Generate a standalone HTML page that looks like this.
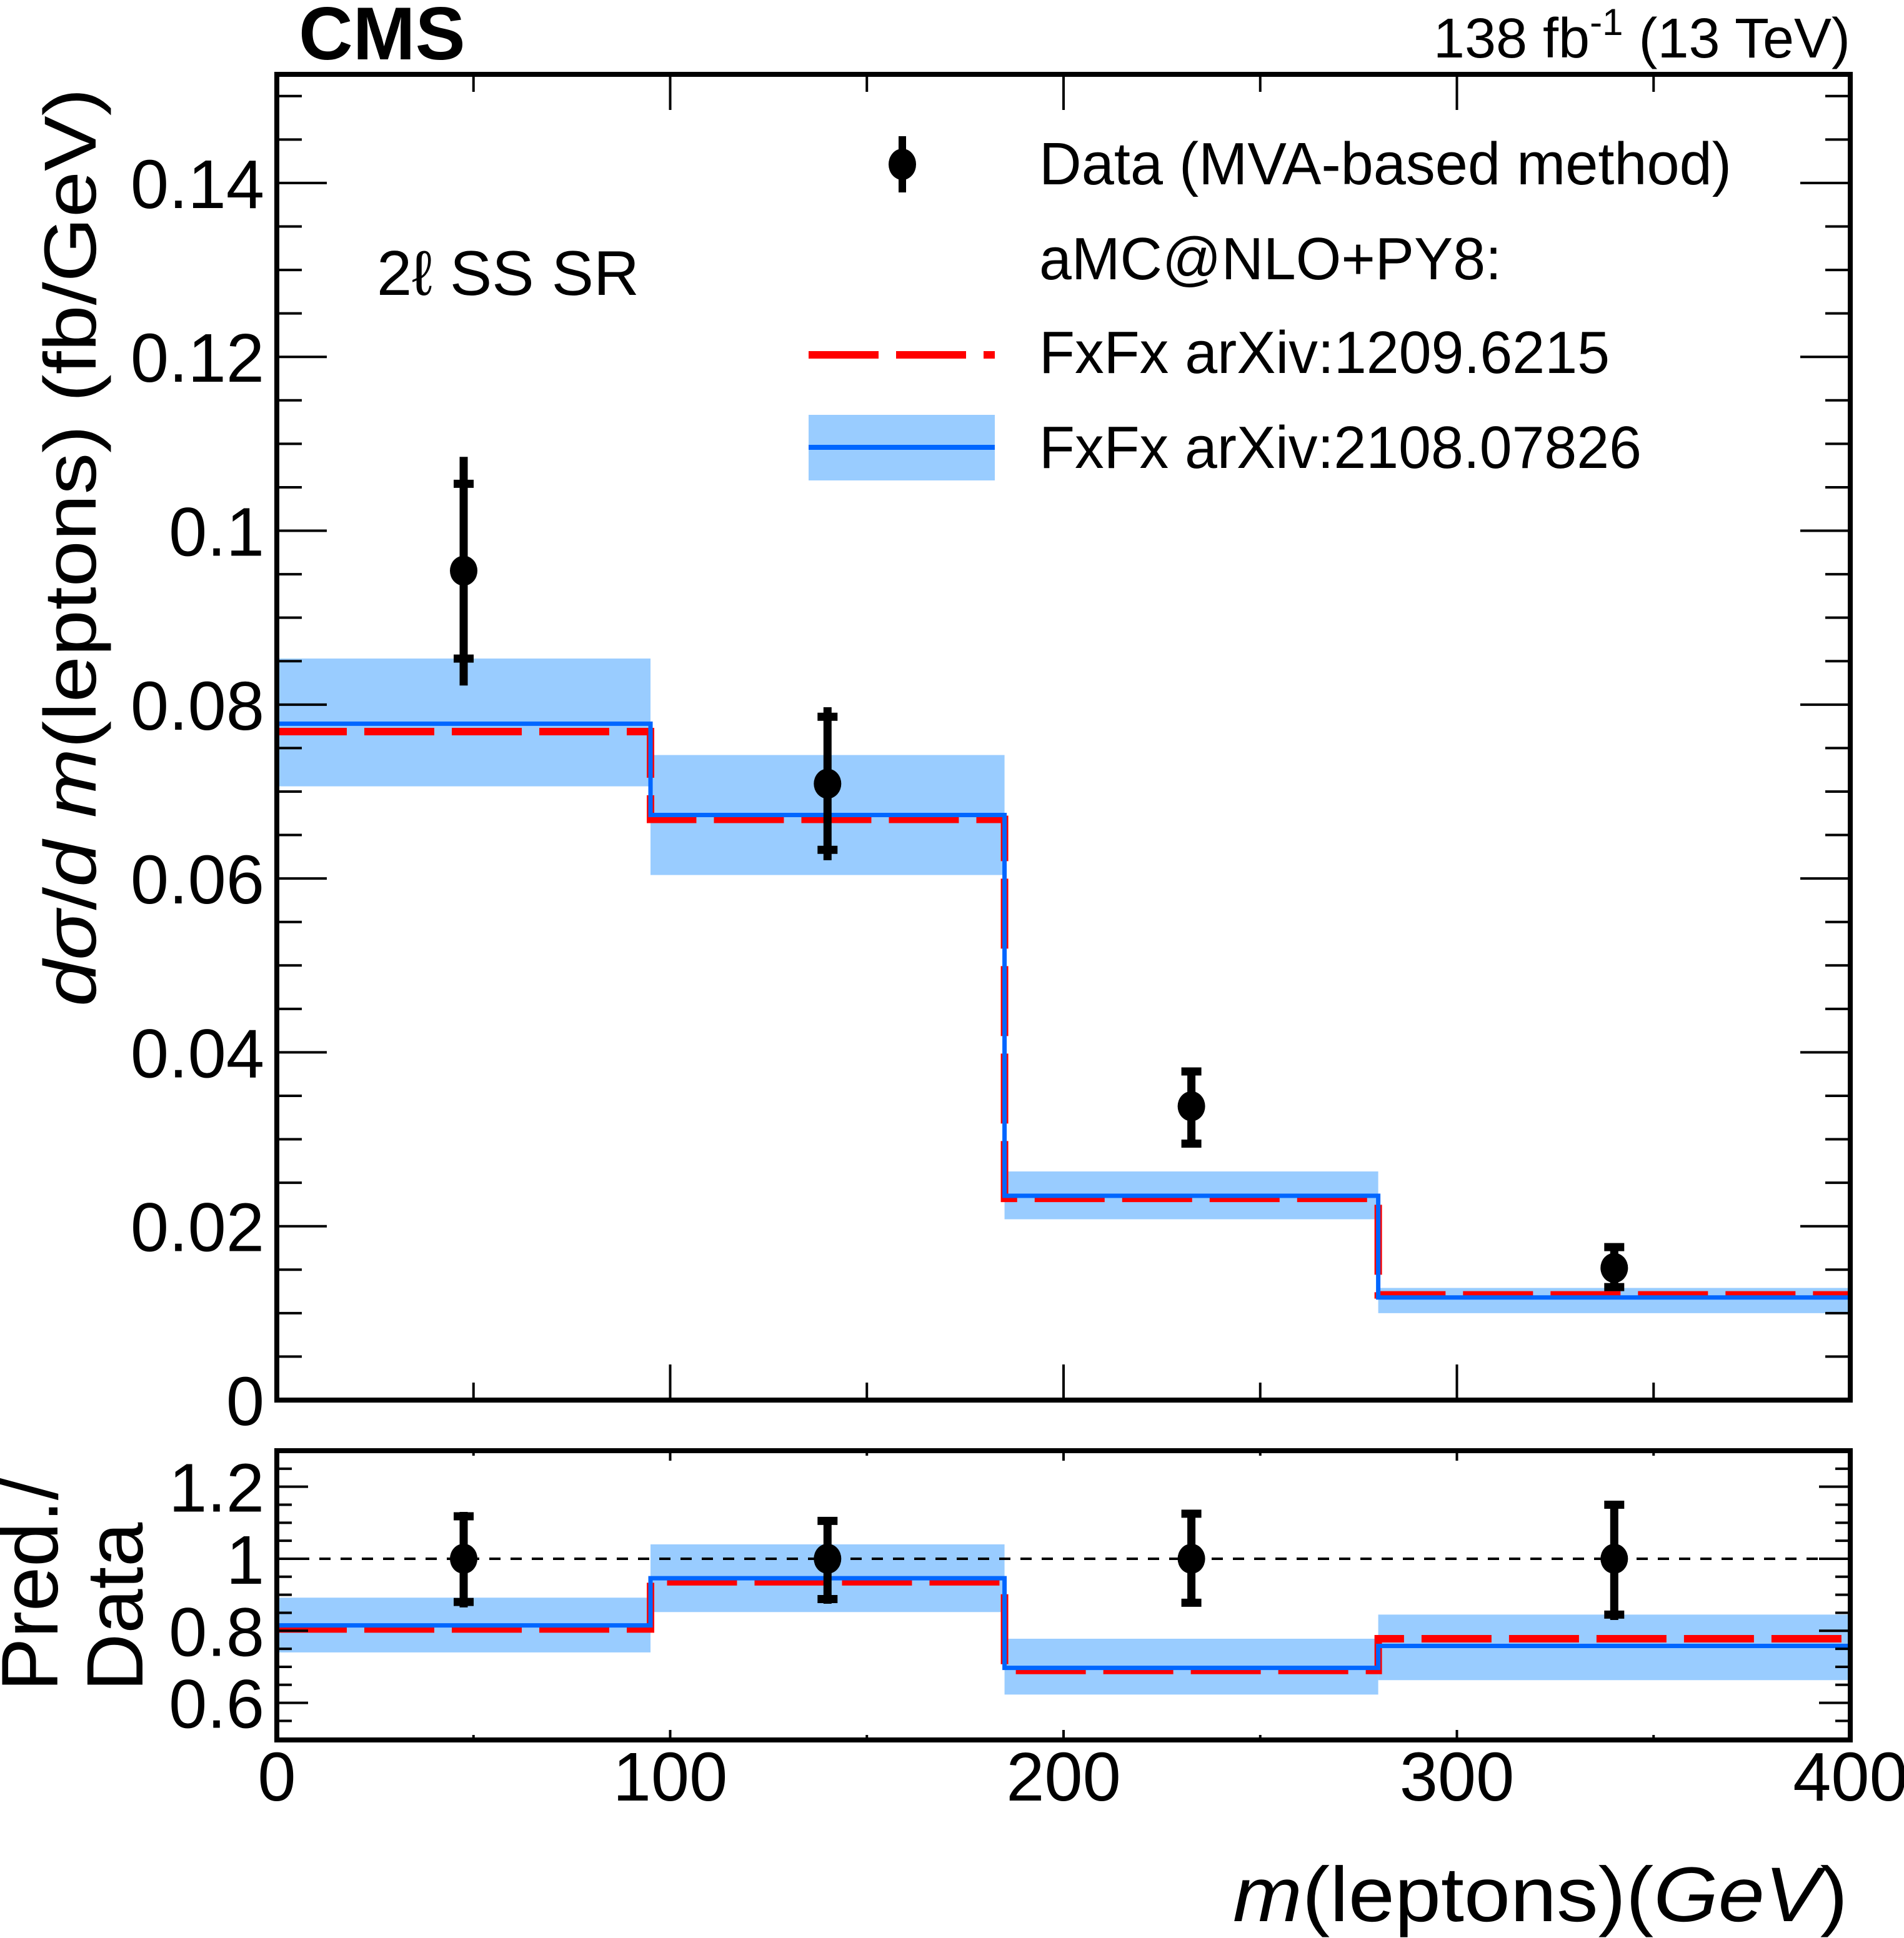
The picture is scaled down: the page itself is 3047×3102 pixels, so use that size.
<!DOCTYPE html>
<html><head><meta charset="utf-8"><style>
html,body{margin:0;padding:0;background:#fff;}
svg{display:block;}
text{font-family:"Liberation Sans",Arial,sans-serif;fill:#000;}
</style></head>
<body>
<svg id="chart" xmlns="http://www.w3.org/2000/svg" width="3047" height="3102" viewBox="0 0 3047 3102">
<rect x="0" y="0" width="3047" height="3102" fill="#fff"/>
<g id="main-plot"></g>
<g id="ratio-plot"></g>
<g id="labels">
  <text x="478" y="95" font-size="120" font-weight="bold">CMS</text>
  <text x="2961" y="92" font-size="90" text-anchor="end">138 fb<tspan dy="-36" font-size="60">-1</tspan><tspan dy="36"> (13 TeV)</tspan></text>
  <text x="603" y="472" font-size="101">2ℓ SS SR</text>
  <text transform="translate(153,141) rotate(-90)" text-anchor="end" font-size="118" textLength="1470" lengthAdjust="spacingAndGlyphs"><tspan font-style="italic">d</tspan><tspan font-style="italic">σ</tspan>/<tspan font-style="italic">d m</tspan>(leptons)  (fb/GeV)</text>
  <text transform="translate(92,2707) rotate(-90)" font-size="128">Pred./</text>
  <text transform="translate(228,2707) rotate(-90)" font-size="128">Data</text>
  <text x="1973" y="3075" font-size="124" textLength="984" lengthAdjust="spacingAndGlyphs"><tspan font-style="italic">m</tspan>(leptons)(<tspan font-style="italic">GeV</tspan>)</text>
</g>
<g id="legend">
  <g>
    <line x1="1444" y1="218" x2="1444" y2="308" stroke="#000" stroke-width="12"/>
    <ellipse cx="1444" cy="263" rx="22" ry="25" fill="#000"/>
    <text x="1663" y="295" font-size="96" textLength="1108" lengthAdjust="spacingAndGlyphs">Data (MVA-based method)</text>
  </g>
  <g>
    <text x="1663" y="447" font-size="96" textLength="740" lengthAdjust="spacingAndGlyphs">aMC@NLO+PY8:</text>
  </g>
  <g>
    <line x1="1294" y1="568" x2="1592" y2="568" stroke="#ff0000" stroke-width="12" stroke-dasharray="112 28"/>
    <text x="1663" y="597" font-size="96" textLength="913" lengthAdjust="spacingAndGlyphs">FxFx arXiv:1209.6215</text>
  </g>
  <g>
    <rect x="1294" y="664" width="298" height="105" fill="#99ccff"/>
    <line x1="1294" y1="716" x2="1592" y2="716" stroke="#0066ff" stroke-width="8"/>
    <text x="1663" y="749" font-size="96" textLength="964" lengthAdjust="spacingAndGlyphs">FxFx arXiv:2108.07826</text>
  </g>
</g>
</svg>
<script>
// ---- data ----
const binEdges = [0, 95, 185, 280, 400];
const dataX = [47.5, 140, 232.5, 340];
const dataVal = [0.0954, 0.0709, 0.0338, 0.0152];
const dataTotLo = [0.0822, 0.0621, 0.0293, 0.0128];
const dataTotHi = [0.1085, 0.0797, 0.0380, 0.0178];
const dataStatLo = [0.0853, 0.0633, 0.0295, 0.0130];
const dataStatHi = [0.1054, 0.0786, 0.0378, 0.0176];
const predBlue = [0.0778, 0.0673, 0.0235, 0.0118];
const predRed = [0.0769, 0.0668, 0.0232, 0.0121];
const bandLo = [0.0706, 0.0604, 0.0208, 0.0100];
const bandHi = [0.0853, 0.0742, 0.0263, 0.0129];
const ratioData = [1, 1, 1, 1];
const ratioTotLo = [0.865, 0.875, 0.870, 0.830];
const ratioTotHi = [1.130, 1.115, 1.130, 1.160];
const ratioStatLo = [0.880, 0.888, 0.878, 0.845];
const ratioStatHi = [1.118, 1.105, 1.125, 1.150];
const ratioBlue = [0.815, 0.946, 0.697, 0.758];
const ratioRed = [0.805, 0.936, 0.690, 0.778];
const ratioBandLo = [0.740, 0.852, 0.623, 0.663];
const ratioBandHi = [0.892, 1.040, 0.778, 0.845];
const mainYTicks = [0, 0.02, 0.04, 0.06, 0.08, 0.1, 0.12, 0.14];
const mainYTickLabels = ["0", "0.02", "0.04", "0.06", "0.08", "0.1", "0.12", "0.14"];
const ratioYTicks = [0.6, 0.8, 1, 1.2];
const ratioYTickLabels = ["0.6", "0.8", "1", "1.2"];
const xTicks = [0, 100, 200, 300, 400];
const xTickLabels = ["0", "100", "200", "300", "400"];

const NS = "http://www.w3.org/2000/svg";
const L = 443, R = 2961;
const MT = 119, MB = 2241, RT = 2322, RB = 2785;
const yMaxMain = 0.1525, rMin = 0.497, rMax = 1.30;
function xs(v){ return L + (v - 0) / 400 * (R - L); }
function ym(v){ return MB - v / yMaxMain * (MB - MT); }
function yr(v){ return RB - (v - rMin) / (rMax - rMin) * (RB - RT); }

function mk(parent, tag, attrs){
  const e = document.createElementNS(NS, tag);
  for (const k in attrs) e.setAttribute(k, attrs[k]);
  parent.appendChild(e);
  return e;
}
function stepPath(vals, yf){
  let d = "";
  for (let i = 0; i < vals.length; i++){
    const x0 = xs(binEdges[i]), x1 = xs(binEdges[i+1]), y = yf(vals[i]);
    d += (i === 0 ? "M" : "L") + x0 + "," + y + "L" + x1 + "," + y;
  }
  return d;
}

function drawPanel(g, top, bottom, yf, yTicks, yLabels, minorStep, yMin, yMax, isMain, vals){
  for (let i = 0; i < vals.bandLo.length; i++){
    const b = mk(g, "rect", {x: xs(binEdges[i]), y: yf(vals.bandHi[i]), width: xs(binEdges[i+1]) - xs(binEdges[i]), height: yf(vals.bandLo[i]) - yf(vals.bandHi[i]), fill: "#99ccff"});
    
    
  }
  if (!isMain){
    const ref = mk(g, "line", {x1: L, x2: R, y1: yf(1), y2: yf(1), stroke: "#000", "stroke-width": 4, "stroke-dasharray": "18 16"});
    
    
  }
  const red = mk(g, "path", {d: stepPath(vals.red, yf), fill: "none", stroke: "#ff0000", "stroke-width": 12, "stroke-dasharray": "112 28"});
  
  
  const blue = mk(g, "path", {d: stepPath(vals.blue, yf), fill: "none", stroke: "#0066ff", "stroke-width": 7});
  
  
  for (let i = 0; i < vals.dx.length; i++){
    const x = xs(vals.dx[i]);
    const pg = mk(g, "g", {});
    
    
    mk(pg, "line", {x1: x, x2: x, y1: yf(vals.tlo[i]), y2: yf(vals.thi[i]), stroke: "#000", "stroke-width": 13});
    mk(pg, "line", {x1: x - 16, x2: x + 16, y1: yf(vals.slo[i]), y2: yf(vals.slo[i]), stroke: "#000", "stroke-width": 13});
    mk(pg, "line", {x1: x - 16, x2: x + 16, y1: yf(vals.shi[i]), y2: yf(vals.shi[i]), stroke: "#000", "stroke-width": 13});
    mk(pg, "ellipse", {cx: x, cy: yf(vals.dv[i]), rx: 22, ry: 24, fill: "#000"});
  }
  const tg = mk(g, "g", {stroke: "#000", "stroke-width": 4});
  
  
  const yMajLen = isMain ? 80 : 50, yMinLen = isMain ? 40 : 24;
  for (let v = yMin; v <= yMax + 1e-9; v += minorStep){
    const vv = Math.round(v * 10000) / 10000;
    const major = yTicks.some(t => Math.abs(t - vv) < 1e-6);
    const len = major ? yMajLen : yMinLen, y = yf(vv);
    if (y < top + 2 || y > bottom - 2) continue;
    mk(tg, "line", {x1: L, x2: L + len, y1: y, y2: y});
    mk(tg, "line", {x1: R, x2: R - len, y1: y, y2: y});
  }
  const xMaj = isMain ? 57 : 16, xMin = isMain ? 28 : 8;
  for (let v = 0; v <= 400; v += 50){
    const major = v % 100 === 0, len = major ? xMaj : xMin, x = xs(v);
    if (v === 0 || v === 400) continue;
    mk(tg, "line", {x1: x, x2: x, y1: bottom, y2: bottom - len});
    mk(tg, "line", {x1: x, x2: x, y1: top, y2: top + len});
  }
  const fr = mk(g, "rect", {x: L, y: top, width: R - L, height: bottom - top, fill: "none", stroke: "#000", "stroke-width": 8});
  
  
  for (let i = 0; i < yTicks.length; i++){
    const t = mk(g, "text", {x: 423, y: yf(yTicks[i]) + 40, "font-size": 110, "text-anchor": "end"});
    t.textContent = yLabels[i];
    
    
  }
}

const mainG = document.getElementById("main-plot");
drawPanel(mainG, MT, MB, ym, mainYTicks, mainYTickLabels, 0.005, 0, 0.15, true,
  {bandLo: bandLo, bandHi: bandHi, red: predRed, blue: predBlue, dx: dataX, dv: dataVal, tlo: dataTotLo, thi: dataTotHi, slo: dataStatLo, shi: dataStatHi});
const ratioG = document.getElementById("ratio-plot");
drawPanel(ratioG, RT, RB, yr, ratioYTicks, ratioYTickLabels, 0.05, 0.5, 1.3, false,
  {bandLo: ratioBandLo, bandHi: ratioBandHi, red: ratioRed, blue: ratioBlue, dx: dataX, dv: ratioData, tlo: ratioTotLo, thi: ratioTotHi, slo: ratioStatLo, shi: ratioStatHi});
for (let i = 0; i < xTicks.length; i++){
  const t = mk(ratioG, "text", {x: xs(xTicks[i]), y: 2882, "font-size": 110, "text-anchor": "middle"});
  t.textContent = xTickLabels[i];
  
  
}
</script>
</body></html>
